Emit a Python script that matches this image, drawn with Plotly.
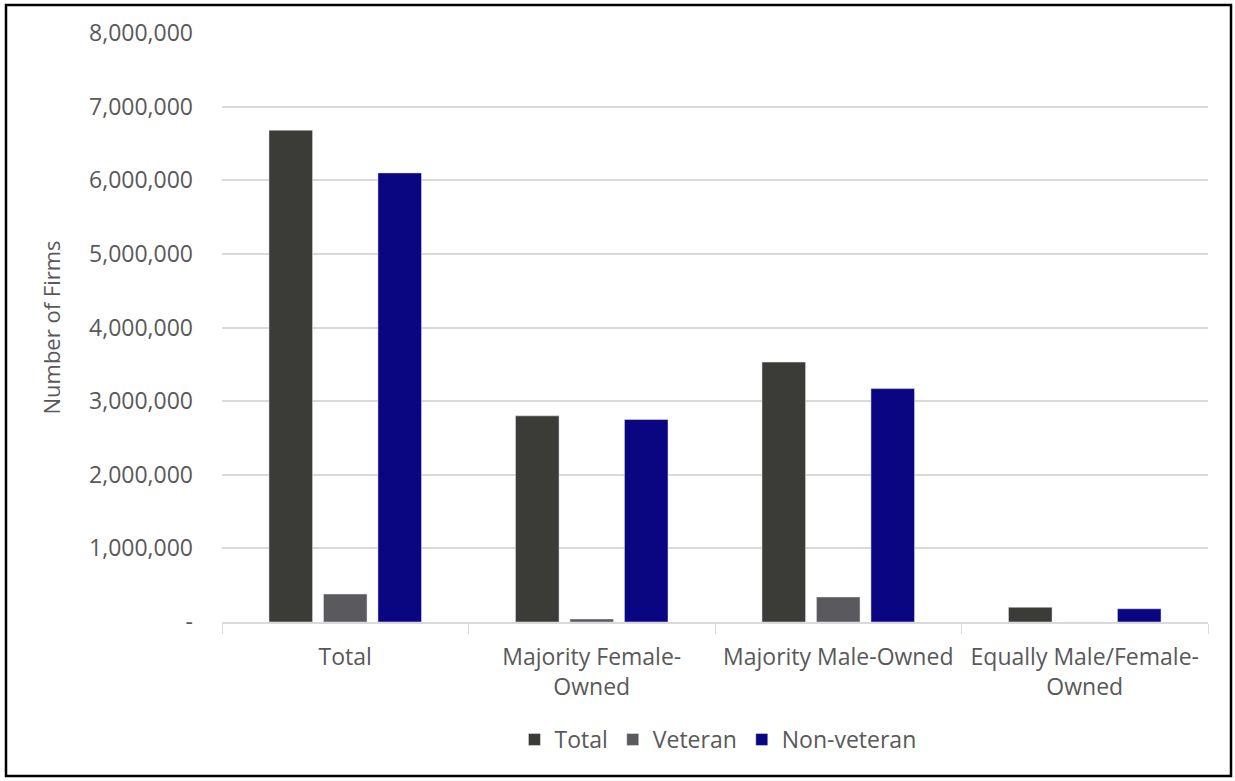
import plotly.graph_objects as go

categories = ["Total", "Majority Female-<br>Owned", "Majority Male-Owned", "Equally Male/Female-<br>Owned"]
total_vals = [6680000, 2800000, 3530000, 200000]
veteran_vals = [380000, 40000, 340000, 0]
nonveteran_vals = [6100000, 2750000, 3170000, 180000]

tick_vals = [0, 1000000, 2000000, 3000000, 4000000, 5000000, 6000000, 7000000, 8000000]
tick_text = ["-", "1,000,000", "2,000,000", "3,000,000", "4,000,000", "5,000,000", "6,000,000", "7,000,000", "8,000,000"]

FONT = "Open Sans"
TXT = "#595959"

fig = go.Figure()
fig.add_trace(go.Bar(name="Total", x=categories, y=total_vals, marker_color="#3b3b37"))
fig.add_trace(go.Bar(name="Veteran", x=categories, y=veteran_vals, marker_color="#59595e"))
fig.add_trace(go.Bar(name="Non-veteran", x=categories, y=nonveteran_vals, marker_color="#0a0580"))

fig.update_layout(
    width=1235, height=781,
    margin=dict(l=222, r=27, t=33, b=159),
    paper_bgcolor="white", plot_bgcolor="white",
    barmode="group", bargap=0.337, bargroupgap=0.2,
    font=dict(family=FONT, size=23, color=TXT),
    showlegend=True,
    legend=dict(orientation="h", x=0.503, xanchor="center", y=-0.163, yanchor="top",
                font=dict(size=23, color=TXT), itemwidth=30, traceorder="normal"),
    xaxis=dict(type="category", showgrid=False, showline=True, linecolor="#d9d9d9", linewidth=1.5,
               ticks="outside", tickson="boundaries", ticklen=10, tickcolor="#d9d9d9",
               ticklabelstandoff=14,
               tickfont=dict(size=23, color=TXT), tickangle=0),
    yaxis=dict(range=[0, 8000000], tickvals=tick_vals, ticktext=tick_text,
               showgrid=True, gridcolor="#d9d9d9", gridwidth=1.5, zeroline=False,
               ticks="", ticklabelstandoff=28,
               tickfont=dict(size=23, color=TXT),
               title=dict(text="Number of Firms", font=dict(size=22, color=TXT), standoff=22)),
    shapes=[dict(type="rect", xref="paper", yref="paper",
                 x0=(6 - 222) / 986, x1=(1231 - 222) / 986,
                 y0=(622 - 776) / 589, y1=(622 - 5) / 589,
                 line=dict(color="black", width=2.5), fillcolor="rgba(0,0,0,0)")],
)

fig.write_html("out.html")
